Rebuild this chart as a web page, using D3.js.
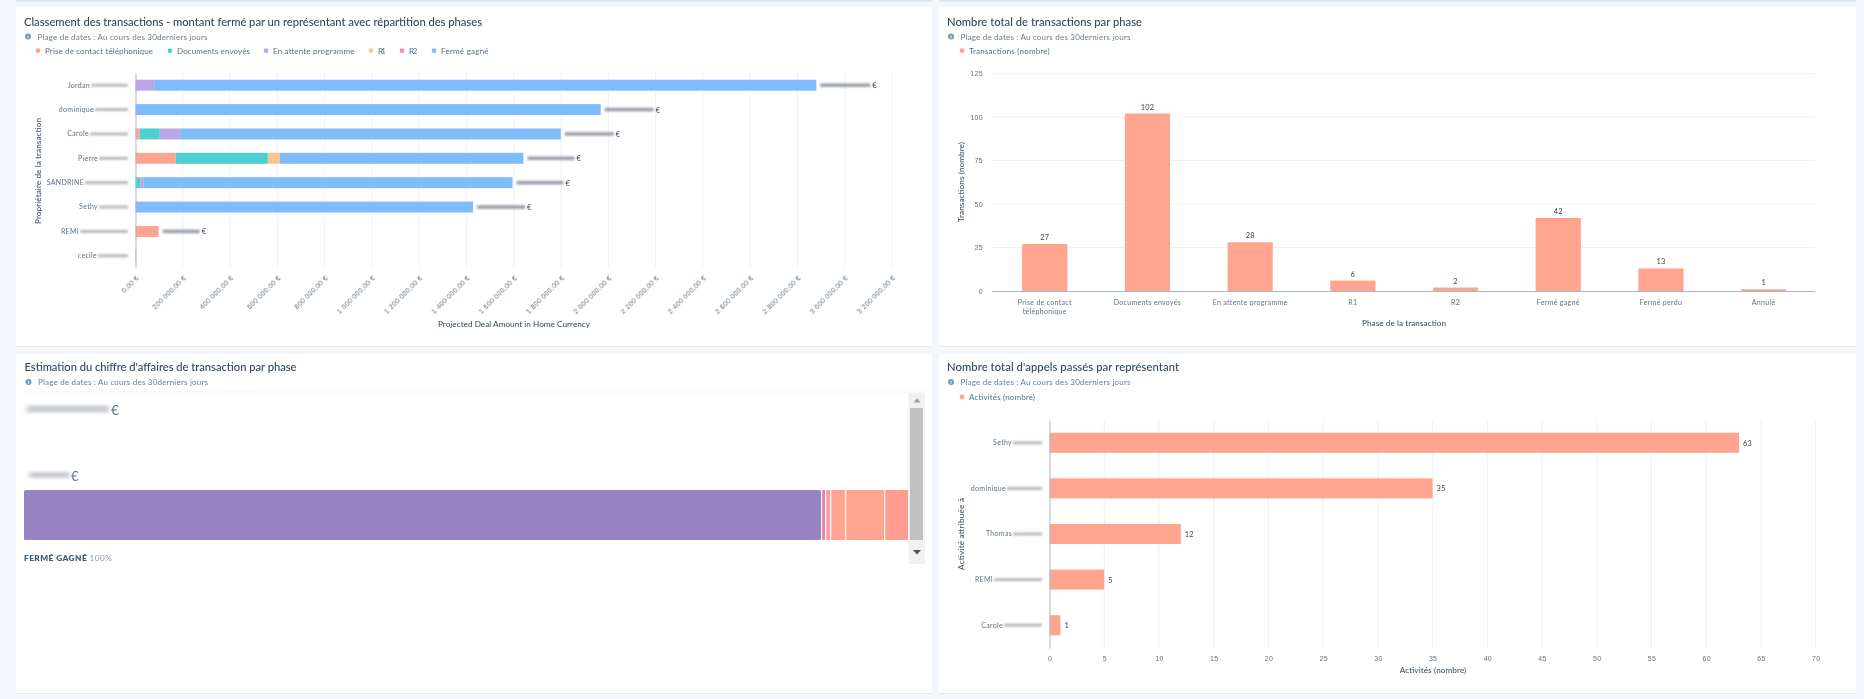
<!DOCTYPE html>
<html lang="fr"><head><meta charset="utf-8">
<script src="https://cdn.jsdelivr.net/npm/d3@7/dist/d3.min.js"></script>
<style>
html,body{margin:0;padding:0;background:#f3f7fb;overflow:hidden}
svg{display:block;font-family:Lato,"Open Sans",sans-serif}
text{fill:#33475b;filter:blur(.22px)}
.title{font-size:11.2px;font-weight:500}
.sub{font-size:8px;fill:#6b7c8d}
.leg{font-size:8px;fill:#516f90}
.tick text,.tk{font-size:7px;fill:#5f7284;letter-spacing:.3px}
.axt{font-size:8.2px;fill:#33475b}
.val{font-size:7.4px;fill:#33475b;letter-spacing:.2px}
.grid line{stroke:#eef1f5;stroke-width:1}
</style></head><body>
<svg id="c" width="1864" height="699"></svg>
<script>
// ---- shared
const dateRange = "Plage de dates : Au cours des 30derniers jours";
// ---- chart 1
const c1Title = "Classement des transactions - montant fermé par un représentant avec répartition des phases";
const c1Owners = ["Jordan","dominique","Carole","Pierre","SANDRINE","Sethy","REMI","cecile"];
const c1Redacted = [37,33,38,29,43,29,48,30];
const c1Smudge = [50,49,49,47,47,48,37,0];
const c1Phases = ["Prise de contact téléphonique","Documents envoyés","En attente programme","R1","R2","Fermé gagné"];
const c1Prise = [0,0,18000,170000,0,0,98000,3000];
const c1Docs = [0,0,85000,390000,20000,0,0,0];
const c1Attente = [82000,0,85000,0,15000,0,0,0];
const c1R1 = [0,0,0,50000,0,0,0,0];
const c1R2 = [0,0,0,0,0,0,0,0];
const c1Gagne = [2798000,1968000,1611000,1031000,1560000,1428000,0,0];
const c1Ticks = [0,200000,400000,600000,800000,1000000,1200000,1400000,1600000,1800000,2000000,2200000,2400000,2600000,2800000,3000000,3200000];
// ---- chart 2
const c2Title = "Nombre total de transactions par phase";
const c2Phases = ["Prise de contact téléphonique","Documents envoyés","En attente programme","R1","R2","Fermé gagné","Fermé perdu","Annulé"];
const c2Values = [27,102,28,6,2,42,13,1];
const c2Ticks = [0,25,50,75,100,125];
// ---- chart 3
const c3Title = "Estimation du chiffre d'affaires de transaction par phase";
const c3Values = [797,4,5,15,39,24];
const c3Colors = ["#9784c2","#d987b0","#ff9aa0","#ffa58f","#ffa58f","#ff9d90"];
// ---- chart 4
const c4Title = "Nombre total d'appels passés par représentant";
const c4Owners = ["Sethy","dominique","Thomas","REMI","Carole"];
const c4Redacted = [29,35,29,48,38];
const c4Values = [63,35,12,5,1];
const c4Ticks = [0,5,10,15,20,25,30,35,40,45,50,55,60,65,70];

const phaseColors = ["#ffa58f","#4fd0d0","#bda6e8","#f5c78e","#ea90b1","#7fbcfb"];
const svg = d3.select("#c");
const defs = svg.append("defs");
defs.append("filter").attr("id","sm").attr("x","-20%").attr("y","-150%").attr("width","140%").attr("height","400%")
  .append("feGaussianBlur").attr("stdDeviation","1.3 .8");
defs.append("filter").attr("id","sm2").attr("x","-20%").attr("y","-100%").attr("width","140%").attr("height","300%")
  .append("feGaussianBlur").attr("stdDeviation","2.5 1.8");
const fr = d3.formatLocale({decimal:",",thousands:"\u00a0",grouping:[3],currency:["","\u00a0€"]});
const eur = fr.format(",.2f");

function card(x,y,w,h){
  svg.append("rect").attr("x",x).attr("y",y+1).attr("width",w).attr("height",h).attr("fill","#e3e9ef");
  svg.append("rect").attr("x",x).attr("y",y).attr("width",w).attr("height",h).attr("fill","#fff");
}
function header(x,y,title,tw){
  svg.append("text").attr("class","title").attr("x",x).attr("y",y).attr("textLength",tw).text(title);
  svg.append("circle").attr("cx",x+4).attr("cy",y+11).attr("r",3).attr("fill","#7c98b6");
  svg.append("rect").attr("x",x+3.6).attr("y",y+10).attr("width",.9).attr("height",2.6).attr("fill","#fff");
  svg.append("text").attr("class","sub").attr("x",x+13.5).attr("y",y+14).attr("textLength",170).text(dateRange);
}
function legend(items,colors,xs,ws,y){
  items.forEach((t,i)=>{
    svg.append("circle").attr("cx",xs[i]).attr("cy",y).attr("r",2.4).attr("fill",colors[i]);
    svg.append("text").attr("class","leg").attr("x",xs[i]+7).attr("y",y+3).attr("textLength",ws[i]).text(t);
  });
}
function smudge(x,y,w,h,color,f){
  svg.append("rect").attr("x",x).attr("y",y-h/2).attr("width",w).attr("height",h)
    .attr("fill",color).attr("filter",`url(#${f||"sm"})`);
}
function styleAxis(g,color){ g.select(".domain").attr("stroke",color||"#a9b8c6"); g.selectAll(".tick line").remove(); }

// backdrop strips of the cards above
svg.append("rect").attr("x",16).attr("y",0).attr("width",916).attr("height",1.5).attr("fill","#dfe6ec");
svg.append("rect").attr("x",939).attr("y",0).attr("width",917).attr("height",1.5).attr("fill","#dfe6ec");

card(16,7,916,339); card(939,7,917,339); card(16,354,916,339); card(939,354,917,339);

// ============ chart 1
header(24,25.5,c1Title,458);
legend(c1Phases,phaseColors,[38,170,266,371,402,434],[108,73,81.6,8,8.4,47.6],50.7);
{
  const x=d3.scaleLinear().domain([0,3200000]).range([135.5,892]);
  const y=d3.scaleBand().domain(c1Owners).range([73,268]).paddingInner(.55).paddingOuter(.275);
  const g=svg.append("g");
  g.append("g").attr("class","grid").selectAll("line").data(c1Ticks.slice(1)).join("line")
    .attr("x1",d=>x(d)).attr("x2",d=>x(d)).attr("y1",73).attr("y2",268);
  const rows=c1Owners.map((o,i)=>({o,Prise:c1Prise[i],Docs:c1Docs[i],Att:c1Attente[i],R1:c1R1[i],R2:c1R2[i],Gagne:c1Gagne[i]}));
  const keys=["Prise","Docs","Att","R1","R2","Gagne"];
  const st=d3.stack().keys(keys)(rows);
  st.forEach((s,k)=>{
    g.append("g").selectAll("rect").data(s).join("rect")
      .attr("x",d=>x(d[0])).attr("width",d=>x(d[1])-x(d[0])).attr("y",d=>y(d.data.o)).attr("height",y.bandwidth())
      .attr("fill",phaseColors[k]);
  });
  const ax=g.append("g").attr("transform","translate(0,268)")
    .call(d3.axisBottom(x).tickValues(c1Ticks).tickFormat(d=>eur(d)+"\u00a0€").tickSize(0));
  ax.select(".domain").remove();
  ax.selectAll("text").attr("text-anchor","end").attr("x",0).attr("y",0).attr("dy",".32em").attr("transform","translate(2,9) rotate(-45)");
  const ay=g.append("g").attr("transform","translate(135.5,0)").call(d3.axisLeft(y).tickSize(0).tickFormat(()=>""));
  styleAxis(ay);
  c1Owners.forEach((o,i)=>{
    const cy=y(o)+y.bandwidth()/2, w=c1Redacted[i];
    g.append("text").attr("class","tk").attr("x",128-w-1).attr("y",cy+2.4).attr("text-anchor","end").text(o);
    smudge(128-w,cy,w,3,"#b6bac1");
    const tot=c1Prise[i]+c1Docs[i]+c1Attente[i]+c1R1[i]+c1R2[i]+c1Gagne[i];
    if(c1Smudge[i]){
      smudge(x(tot)+4,cy,c1Smudge[i],3.6,"#9a9fa8");
      g.append("text").attr("class","val").attr("x",x(tot)+4+c1Smudge[i]+2).attr("y",cy+3).text("€");
    }
  });
  g.append("text").attr("class","axt").attr("x",514).attr("y",327).attr("text-anchor","middle").attr("textLength",152).text("Projected Deal Amount in Home Currency");
  g.append("text").attr("class","axt").attr("transform","translate(41,171) rotate(-90)").attr("text-anchor","middle").attr("textLength",106).text("Propriétaire de la transaction");
}

// ============ chart 2
header(947,25.5,c2Title,195);
legend(["Transactions (nombre)"],["#ffa58f"],[962],[80.7],50.7);
{
  const x=d3.scaleBand().domain(c2Phases).range([993.4,1815]).paddingInner(.56).paddingOuter(.28);
  const y=d3.scaleLinear().domain([0,125]).range([291,73.5]);
  const g=svg.append("g");
  g.append("g").attr("class","grid").selectAll("line").data(c2Ticks.slice(1)).join("line")
    .attr("x1",992).attr("x2",1815).attr("y1",d=>y(d)).attr("y2",d=>y(d));
  g.append("g").selectAll("rect").data(c2Values).join("rect")
    .attr("x",(d,i)=>x(c2Phases[i])).attr("width",x.bandwidth()).attr("y",d=>y(d)).attr("height",d=>y(0)-y(d)).attr("fill","#ffa58f");
  g.append("g").selectAll("text").data(c2Values).join("text").attr("class","val")
    .attr("x",(d,i)=>x(c2Phases[i])+x.bandwidth()/2).attr("y",d=>y(d)-4).attr("text-anchor","middle").text(d=>d);
  const ay=g.append("g").attr("transform","translate(992,0)").call(d3.axisLeft(y).tickValues(c2Ticks).tickSize(0).tickPadding(9));
  ay.select(".domain").remove();
  const ax=g.append("g").attr("transform","translate(0,291)").call(d3.axisBottom(x).tickSize(0).tickFormat(()=>""));
  ax.select(".domain").attr("stroke","#a9b8c6").attr("d","M992,0.5H1815");
  c2Phases.forEach((p,i)=>{
    const cx=x(p)+x.bandwidth()/2;
    const lines=i===0?["Prise de contact","téléphonique"]:[p];
    lines.forEach((l,j)=>g.append("text").attr("class","tk").attr("x",cx).attr("y",304.5+j*9.5).attr("text-anchor","middle").text(l));
  });
  g.append("text").attr("class","axt").attr("x",1404).attr("y",326).attr("text-anchor","middle").attr("textLength",84).text("Phase de la transaction");
  g.append("text").attr("class","axt").attr("transform","translate(964,182) rotate(-90)").attr("text-anchor","middle").attr("textLength",80).text("Transactions (nombre)");
}

// ============ chart 3
header(24.5,371,c3Title,272);
svg.append("line").attr("x1",24).attr("x2",925).attr("y1",392).attr("y2",392).attr("stroke","#eef1f4");
{
  const total=d3.sum(c3Values);
  const x=d3.scaleLinear().domain([0,total]).range([24,908]);
  let acc=0;
  const g=svg.append("g");
  c3Values.forEach((v,i)=>{
    g.append("rect").attr("x",x(acc)+(i?1.2:0)).attr("width",x(acc+v)-x(acc)-(i?1.2:0)).attr("y",490).attr("height",50).attr("rx",i===0?1.5:0).attr("fill",c3Colors[i]);
    acc+=v;
  });
  smudge(27,409,82,7,"#c9cdd2","sm2");
  g.append("text").attr("x",111).attr("y",415).attr("font-size",14).style("fill","#5f7284").text("€");
  smudge(29,475,41,6,"#c9cdd2","sm2");
  g.append("text").attr("x",71).attr("y",480.5).attr("font-size",13).style("fill","#5f7284").text("€");
  const lab=g.append("text").attr("x",24).attr("y",561).attr("font-size",8.2).attr("letter-spacing",".5");
  lab.append("tspan").attr("font-weight",800).style("fill","#425b76").text("FERMÉ GAGNÉ ");
  lab.append("tspan").style("fill","#8a9aab").text("100%");
  // scrollbar
  g.append("rect").attr("x",908.5).attr("y",393).attr("width",16.5).attr("height",171).attr("fill","#f1f1f1");
  g.append("rect").attr("x",910).attr("y",408).attr("width",13).attr("height",132).attr("fill","#c1c1c1");
  g.append("path").attr("d","M913.5,402.5 l3.5,-4.5 l3.5,4.5 z").attr("fill","#a3a3a3");
  g.append("path").attr("d","M913,550 h8 l-4,4.5 z").attr("fill","#505050");
}

// ============ chart 4
header(947,371,c4Title,232);
legend(["Activités (nombre)"],["#ffa58f"],[962],[66],397);
{
  const x=d3.scaleLinear().domain([0,70]).range([1049.5,1815.7]);
  const y=d3.scaleBand().domain(c4Owners).range([420,648]).paddingInner(.56).paddingOuter(.28);
  const g=svg.append("g");
  g.append("g").attr("class","grid").selectAll("line").data(c4Ticks.slice(1)).join("line")
    .attr("x1",d=>x(d)).attr("x2",d=>x(d)).attr("y1",420).attr("y2",648);
  g.append("g").selectAll("rect").data(c4Values).join("rect")
    .attr("x",x(0)).attr("width",d=>x(d)-x(0)).attr("y",(d,i)=>y(c4Owners[i])).attr("height",y.bandwidth()).attr("fill","#ffa58f");
  g.append("g").selectAll("text").data(c4Values).join("text").attr("class","val")
    .attr("x",d=>x(d)+4).attr("y",(d,i)=>y(c4Owners[i])+y.bandwidth()/2+3).text(d=>d);
  const ax=g.append("g").attr("transform","translate(0,648)").call(d3.axisBottom(x).tickValues(c4Ticks).tickSize(0).tickPadding(8));
  ax.select(".domain").remove();
  const ay=g.append("g").attr("transform","translate(1049.5,0)").call(d3.axisLeft(y).tickSize(0).tickFormat(()=>""));
  styleAxis(ay);
  c4Owners.forEach((o,i)=>{
    const cy=y(o)+y.bandwidth()/2,w=c4Redacted[i];
    g.append("text").attr("class","tk").attr("x",1042-w-1).attr("y",cy+2.4).attr("text-anchor","end").text(o);
    smudge(1042-w,cy,w,3,"#b6bac1");
  });
  g.append("text").attr("class","axt").attr("x",1433).attr("y",673).attr("text-anchor","middle").attr("textLength",66.6).text("Activités (nombre)");
  g.append("text").attr("class","axt").attr("transform","translate(964,534) rotate(-90)").attr("text-anchor","middle").attr("textLength",72).text("Activité attribuée à");
}
</script></body></html>
